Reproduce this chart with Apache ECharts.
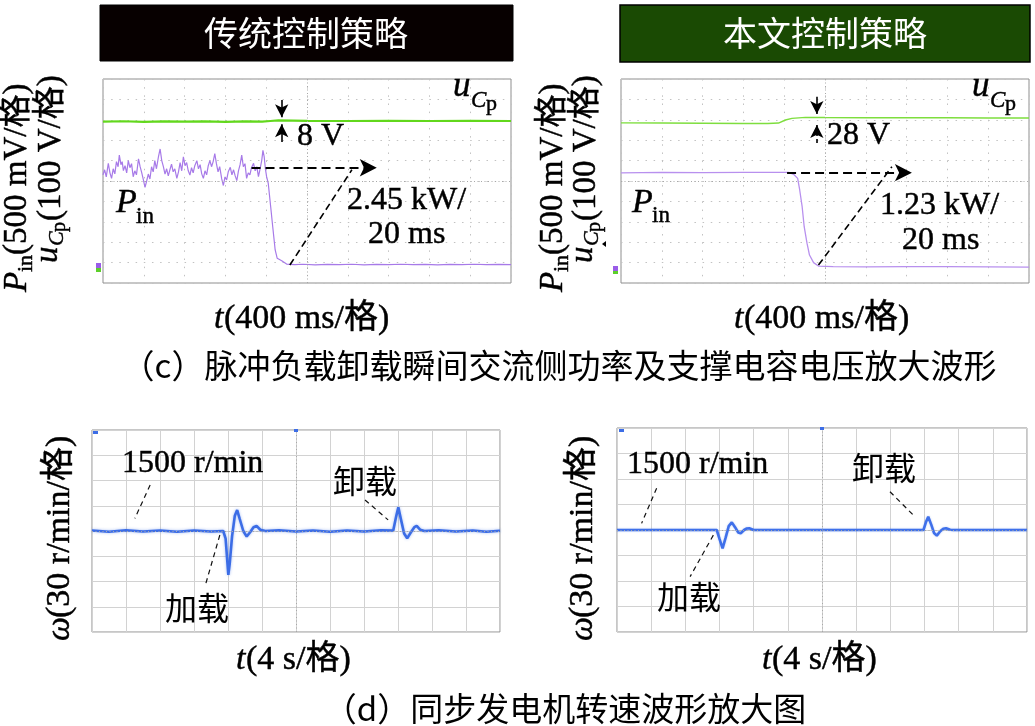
<!DOCTYPE html>
<html><head><meta charset="utf-8">
<script src="https://cdn.jsdelivr.net/npm/echarts@6/dist/echarts.min.js"></script>
<style>html,body{margin:0;padding:0;background:#fff}#c{width:1035px;height:726px}</style>
</head><body><div id="c"></div><script>
// ---- data (x in divisions, y in divisions) ----
const pinConv = [[0.00,5.30],[0.04,5.55],[0.08,5.20],[0.13,5.87],[0.17,5.40],[0.21,5.13],[0.25,5.60],[0.29,5.35],[0.33,5.95],[0.37,5.70],[0.40,6.27],[0.44,5.80],[0.47,5.95],[0.50,5.51],[0.54,5.75],[0.58,5.40],[0.62,6.00],[0.66,5.65],[0.70,5.85],[0.74,5.21],[0.78,5.50],[0.82,5.30],[0.87,6.09],[0.91,5.70],[0.95,5.40],[0.99,5.05],[1.03,4.69],[1.07,5.00],[1.11,5.34],[1.15,5.10],[1.19,5.70],[1.23,5.45],[1.27,6.00],[1.31,5.60],[1.36,6.20],[1.40,6.57],[1.44,6.00],[1.48,5.70],[1.52,5.34],[1.56,5.60],[1.60,5.25],[1.64,5.55],[1.68,5.83],[1.72,5.45],[1.76,5.60],[1.81,5.13],[1.85,5.45],[1.89,5.90],[1.93,5.50],[1.97,6.18],[2.01,5.75],[2.05,5.90],[2.09,5.50],[2.13,5.29],[2.17,5.65],[2.21,5.40],[2.25,5.75],[2.30,6.00],[2.34,5.60],[2.38,5.80],[2.42,5.35],[2.46,5.13],[2.50,5.50],[2.54,5.30],[2.58,5.75],[2.62,6.00],[2.66,5.70],[2.70,5.95],[2.74,6.34],[2.78,5.85],[2.82,5.45],[2.86,5.70],[2.91,5.10],[2.95,4.78],[2.99,5.20],[3.03,5.05],[3.07,5.45],[3.12,5.67],[3.16,5.30],[3.20,5.55],[3.24,5.25],[3.28,5.02],[3.32,5.50],[3.36,5.80],[3.40,6.27],[3.44,5.70],[3.48,5.85],[3.52,5.13],[3.56,5.40],[3.60,5.30],[3.64,5.65],[3.69,5.87],[3.73,5.50],[3.77,5.70],[3.81,5.21],[3.85,5.60],[3.89,6.00],[3.92,6.50],[3.95,6.20],[3.98,5.60],[4.01,5.21],[4.05,4.89],[4.11,3.74],[4.16,2.76],[4.22,1.62],[4.27,1.21],[4.38,1.09],[4.50,0.93],[4.70,0.90],[4.90,0.92],[5.20,0.89],[5.50,0.91],[5.80,0.90],[6.10,0.92],[6.40,0.89],[6.70,0.91],[7.00,0.90],[7.30,0.92],[7.60,0.90],[7.90,0.91],[8.20,0.89],[8.50,0.91],[8.80,0.90],[9.10,0.92],[9.40,0.90],[9.70,0.91],[10.00,0.90]];
const ucpConv = [[0,7.91],[0.5,7.93],[1,7.90],[1.5,7.92],[2,7.91],[2.5,7.92],[3,7.90],[3.5,7.92],[3.9,7.91],[4.1,7.94],[4.3,7.97],[5,7.95],[6,7.94],[7,7.95],[8,7.94],[9,7.95],[10,7.94]];
const pinProp = [[0,5.40],[1,5.42],[2,5.41],[3,5.42],[4.0,5.42],[4.11,5.42],[4.23,5.33],[4.33,5.13],[4.38,4.56],[4.44,3.74],[4.49,2.76],[4.56,1.94],[4.62,1.37],[4.72,1.00],[4.84,0.83],[5.2,0.80],[6,0.79],[7,0.80],[8,0.80],[9,0.79],[10,0.78]];
const ucpProp = [[0,7.85],[1,7.84],[2,7.83],[3,7.82],[3.6,7.82],[3.86,7.84],[4.03,7.99],[4.19,8.07],[4.52,8.12],[5,8.11],[6,8.10],[7,8.10],[8,8.10],[9,8.09],[10,8.09]];
const speedConv = [[0,0.02],[0.5,-0.03],[1,0.03],[1.5,-0.02],[2,0.02],[2.5,-0.03],[3,0.02],[3.5,-0.02],[3.86,0.0],[3.93,-0.3],[3.98,-1.2],[4.01,-1.74],[4.05,-1.3],[4.12,-0.2],[4.2,0.6],[4.27,0.83],[4.34,0.5],[4.45,0.0],[4.55,-0.22],[4.65,-0.05],[4.75,0.15],[4.84,0.2],[4.95,0.05],[5.1,0.0],[5.5,0.03],[6,-0.02],[6.5,0.02],[7,-0.03],[7.5,0.02],[8,-0.02],[8.5,0.03],[8.86,0.02],[8.95,0.6],[9.01,0.94],[9.08,0.5],[9.18,-0.1],[9.27,-0.29],[9.38,-0.05],[9.48,0.15],[9.55,0.2],[9.65,0.05],[9.78,0.0],[10.2,0.03],[10.7,-0.02],[11.2,0.02],[11.6,-0.03],[12,0.01]];
const speedProp = [[0,0],[1,0],[2,0],[2.92,0],[3.0,-0.35],[3.09,-0.72],[3.18,-0.3],[3.27,0.15],[3.36,0.30],[3.46,0.1],[3.55,-0.1],[3.62,-0.13],[3.72,0.0],[3.8,0.06],[3.87,0.07],[4.0,0],[5,0],[6,0],[7,0],[8,0],[8.97,0],[9.04,0.3],[9.11,0.52],[9.2,0.2],[9.28,-0.12],[9.36,-0.22],[9.46,-0.05],[9.55,0.05],[9.63,0.07],[9.75,0.01],[9.85,0],[11,0],[12,0]];

const headers = ['传统控制策略', '本文控制策略'];
const captionC = '（c）脉冲负载卸载瞬间交流侧功率及支撑电容电压放大波形';
const captionD = '（d）同步发电机转速波形放大图';

// ---- styling ----
const SERIF = '"Liberation Serif","Times New Roman","Noto Sans CJK SC",serif';
const CJK = '"Noto Sans CJK SC",sans-serif';
const chart = echarts.init(document.getElementById('c'), null, {renderer: 'canvas'});

const grids = [
  {left: 103, top: 79, width: 408, height: 204},
  {left: 621, top: 79, width: 408, height: 204},
  {left: 92, top: 430, width: 408, height: 202},
  {left: 617, top: 428, width: 410, height: 204}
].map(g => Object.assign({show: true, borderColor: '#8f8f8f', borderWidth: 1, backgroundColor: '#fff'}, g));

const dotted = {color: '#c2c2c2', type: [1.5, 6.66], width: 1};
const solidGrid = {color: '#d2d2d2', type: 'solid', width: 1};
function axX(i, max, ls) {
  return {type: 'value', gridIndex: i, min: 0, max: max, interval: 1,
    axisLine: {show: false}, axisTick: {show: false}, axisLabel: {show: false},
    splitLine: {show: true, lineStyle: ls}};
}
function axY(i, min, max, ls) {
  return {type: 'value', gridIndex: i, min: min, max: max, interval: 1,
    axisLine: {show: false}, axisTick: {show: false}, axisLabel: {show: false},
    splitLine: {show: true, lineStyle: ls}};
}
const xAxes = [axX(0, 10, dotted), axX(1, 10, dotted), axX(2, 12, solidGrid), axX(3, 12, solidGrid)];
const yAxes = [axY(0, 0, 10, dotted), axY(1, 0, 10, dotted), axY(2, -4, 4, solidGrid), axY(3, -4, 4, solidGrid)];

function trace(i, data, color, w, extra) {
  return Object.assign({type: 'line', xAxisIndex: i, yAxisIndex: i, data: data, showSymbol: false,
    symbol: 'none', lineStyle: {color: color, width: w}, silent: true, z: 3}, extra || {});
}
function lines(i, segs, style, symbols, size) {
  return {type: 'line', xAxisIndex: i, yAxisIndex: i, data: [], silent: true, z: 5,
    markLine: {silent: true, animation: false, symbol: symbols, symbolSize: size, label: {show: false},
      lineStyle: style, emphasis: {disabled: true},
      data: segs.map(s => [{coord: s[0]}, {coord: s[1]}])}};
}
function centerLines(i, cx, cy) {
  return {type: 'line', xAxisIndex: i, yAxisIndex: i, data: [], silent: true, z: 1,
    markLine: {silent: true, animation: false, symbol: ['none', 'none'], label: {show: false},
      lineStyle: {color: '#a8a8a8', type: [1, 2.5], width: 1},
      data: [{xAxis: cx}, {yAxis: cy}]}};
}

const dashArrow = {color: '#000', type: [9, 5], width: 2};
const dashDiag = {color: '#000', type: [7, 4], width: 1.6};
const solidArrow = {color: '#000', type: 'solid', width: 1.6};
const dashShaft = {color: '#000', type: [4, 3], width: 1.6};
const leader = {color: '#111', type: [5, 4], width: 1.2};

const series = [
  centerLines(0, 5, 5), centerLines(1, 5, 5), centerLines(2, 6, 0), centerLines(3, 6, 0),
  trace(0, ucpConv, '#62d81c', 2.2),
  trace(0, pinConv, '#a77ae8', 1.2),
  trace(1, ucpProp, '#7ede3e', 1.4),
  trace(1, pinProp, '#b890ee', 1.3),
  trace(2, speedConv, '#3c6de6', 2.6, {lineStyle: {color: '#3c6de6', width: 2.6, shadowColor: 'rgba(60,110,230,0.45)', shadowBlur: 3}}),
  trace(3, speedProp, '#3f70ea', 2.6, {lineStyle: {color: '#3f70ea', width: 2.6, shadowColor: 'rgba(60,110,230,0.35)', shadowBlur: 2}}),
  // top-left annotations
  lines(0, [[[3.64, 5.65], [6.71, 5.65]]], dashArrow, ['none', 'arrow'], [13, 17]),
  lines(0, [[[4.58, 0.88], [6.10, 5.55]]], dashDiag, ['none', 'none'], 1),
  lines(0, [[[4.38, 8.97], [4.38, 8.12]], [[4.38, 6.91], [4.38, 7.78]]], solidArrow, ['none', 'arrow'], [10, 13]),
  // top-right annotations
  lines(1, [[[4.07, 5.41], [7.13, 5.41]]], dashArrow, ['none', 'arrow'], [13, 17]),
  lines(1, [[[4.84, 0.88], [6.64, 5.70]]], dashDiag, ['none', 'none'], 1),
  lines(1, [[[4.80, 9.13], [4.80, 8.28]]], solidArrow, ['none', 'arrow'], [10, 13]),
  lines(1, [[[4.80, 6.86], [4.80, 7.75]]], dashShaft, ['none', 'arrow'], [10, 13]),
  // bottom leaders
  lines(2, [[[1.71, 1.82], [1.26, 0.50]], [[8.03, 1.23], [8.71, 0.44]], [[3.76, -0.16], [3.32, -2.21]]], leader, ['none', 'none'], 1),
  lines(3, [[[1.16, 1.64], [0.72, 0.26]], [[7.99, 1.50], [8.72, 0.52]], [[2.82, -0.20], [2.14, -1.83]]], leader, ['none', 'none'], 1)
];

// ---- text helpers ----
function T(x, y, text, size, o) {
  o = o || {};
  const fill = o.fill || '#000';
  const st = {text: text, font: (o.italic ? 'italic ' : '') + size + 'px ' + (o.family || SERIF),
    fill: fill, textAlign: o.align || 'left', textVerticalAlign: 'middle'};
  if (!o.thin) { st.stroke = fill; st.lineWidth = o.sw || 0.45; }
  return {type: 'text', x: x, y: y, silent: true, z: 20, style: st};
}
function G(x, y, rot, children) {
  return {type: 'group', x: x, y: y, rotation: rot, children: children};
}
function pinLabel() { // local coords along text
  return [T(0, 0, 'P', 33, {italic: true}), T(20, 9, 'in', 22), T(37, 0, '(500 mV/格)', 33)];
}
function ucpLabel() {
  return [T(0, -3, 'u', 33, {italic: true}), T(17, 6, 'C', 22, {italic: true}), T(31, 9, 'p', 20), T(42, 0, '(100 V/格)', 33)];
}
const R = Math.PI / 2;
const graphics = [
  // header boxes
  {type: 'rect', shape: {x: 100, y: 5, width: 413, height: 56}, style: {fill: '#070000', stroke: '#000', lineWidth: 1}, silent: true},
  {type: 'rect', shape: {x: 620, y: 5, width: 410, height: 57}, style: {fill: '#1a4a03', stroke: '#000', lineWidth: 1.5}, silent: true},
  T(306, 33, headers[0], 34, {family: CJK, fill: '#fff', align: 'center', thin: true}),
  T(825, 33, headers[1], 34, {family: CJK, fill: '#fff', align: 'center', thin: true}),
  // rotated y labels (top)
  G(17, 292, R, pinLabel()), G(51, 263, R, ucpLabel()),
  G(553, 292, R, pinLabel()), G(586, 263, R, ucpLabel()),
  // x labels (top)
  T(214, 319, 't', 34, {italic: true}), T(224, 319, '(400 ms/格)', 34),
  T(734, 319, 't', 34, {italic: true}), T(744, 319, '(400 ms/格)', 34),
  // captions
  T(559, 365, captionC, 33, {family: CJK, align: 'center', thin: true}),
  T(565, 708, captionD, 33, {family: CJK, align: 'center', thin: true}),
  // in-plot labels top-left
  T(453, 87, 'u', 35, {italic: true}), T(471, 101, 'C', 23, {italic: true}), T(486, 104, 'p', 22),
  T(297, 137, '8 V', 32), T(347, 201, '2.45 kW/', 32), T(368, 235, '20 ms', 32),
  T(116, 203, 'P', 34, {italic: true}), T(136, 217, 'in', 23),
  // in-plot labels top-right
  T(972, 87, 'u', 35, {italic: true}), T(990, 101, 'C', 23, {italic: true}), T(1005, 104, 'p', 22),
  T(827, 136, '28 V', 32), T(880, 206, '1.23 kW/', 32), T(902, 241, '20 ms', 32),
  T(632, 203, 'P', 34, {italic: true}), T(652, 216, 'in', 23),
  // bottom rotated labels
  G(60, 641, R, [T(0, 0, 'ω', 34, {italic: true}), T(23, 0, '(30 r/min/格)', 34)]),
  G(583, 641, R, [T(0, 0, 'ω', 34, {italic: true}), T(23, 0, '(30 r/min/格)', 34)]),
  T(236, 660, 't', 34, {italic: true}), T(246, 660, '(4 s/格)', 34),
  T(762, 660, 't', 34, {italic: true}), T(772, 660, '(4 s/格)', 34),
  // bottom in-plot labels
  T(122, 464, '1500 r/min', 32), T(333, 481, '卸载', 32, {family: CJK, thin: true}), T(165, 608, '加载', 32, {family: CJK, thin: true}),
  T(627, 465, '1500 r/min', 32), T(852, 468, '卸载', 32, {family: CJK, thin: true}), T(657, 597, '加载', 32, {family: CJK, thin: true}),
  // scope channel markers
  {type: 'rect', shape: {x: 96, y: 263, width: 5, height: 5}, style: {fill: '#9a5ce8'}, silent: true, z: 20},
  {type: 'rect', shape: {x: 96, y: 268, width: 5, height: 4}, style: {fill: '#5ccf2a'}, silent: true, z: 20},
  {type: 'rect', shape: {x: 613, y: 266, width: 5, height: 5}, style: {fill: '#9a5ce8'}, silent: true, z: 20},
  {type: 'rect', shape: {x: 613, y: 271, width: 5, height: 3}, style: {fill: '#5ccf2a'}, silent: true, z: 20},
  {type: 'polygon', shape: {points: [[602, 244], [606, 241], [606, 247]]}, style: {fill: '#000'}, silent: true, z: 20},
  {type: 'rect', shape: {x: 93, y: 431, width: 5, height: 3}, style: {fill: '#3c6de6'}, silent: true, z: 20},
  {type: 'rect', shape: {x: 294, y: 429, width: 4, height: 3}, style: {fill: '#3c6de6'}, silent: true, z: 20},
  {type: 'rect', shape: {x: 619, y: 429, width: 5, height: 3}, style: {fill: '#3c6de6'}, silent: true, z: 20},
  {type: 'rect', shape: {x: 820, y: 427, width: 4, height: 3}, style: {fill: '#3c6de6'}, silent: true, z: 20}
];

chart.setOption({
  animation: false,
  backgroundColor: '#fff',
  grid: grids,
  xAxis: xAxes,
  yAxis: yAxes,
  series: series,
  graphic: graphics
});
</script></body></html>
